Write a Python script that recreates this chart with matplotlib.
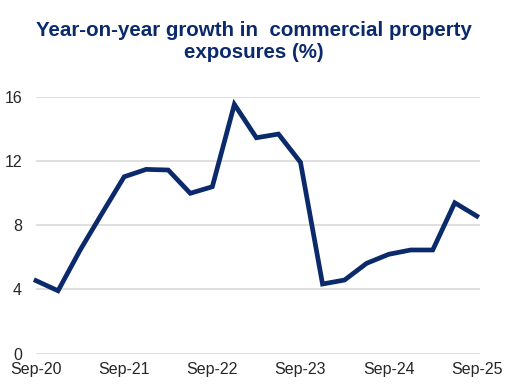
import matplotlib
matplotlib.use("Agg")
import matplotlib.pyplot as plt

plt.rcParams['font.family'] = ['Liberation Sans', 'DejaVu Sans']

growth = [4.55, 3.92, 6.45, 8.75, 11.02, 11.48, 11.44, 9.99, 10.40, 15.53,
          13.45, 13.68, 11.92, 4.34, 4.59, 5.63, 6.19, 6.46, 6.46, 9.40, 8.57]
tick_idx = [0, 4, 8, 12, 16, 20]
tick_labels = ['Sep-20', 'Sep-21', 'Sep-22', 'Sep-23', 'Sep-24', 'Sep-25']
y_ticks = [0, 4, 8, 12, 16]

navy = '#0b2a6b'
fig = plt.figure(figsize=(5.07, 3.91), dpi=100)
ax = fig.add_axes([0.071, 0.0954, 0.876, 0.657])
x = list(range(len(growth)))
ax.plot(x, growth, color=navy, lw=3.4, solid_joinstyle='miter', clip_on=False, zorder=3)
ax.set_xlim(0, 20.15)
ax.set_ylim(0, 16)
ax.set_yticks(y_ticks)
ax.set_yticklabels([str(v) for v in y_ticks])
ax.set_xticks(tick_idx)
ax.set_xticklabels(tick_labels)
ax.grid(axis='y', color='#d9d9d9', lw=1.2)
ax.set_axisbelow(True)
for s in ax.spines.values():
    s.set_visible(False)
ax.tick_params(length=0, labelsize=11.5, colors='#262626')
ax.tick_params(axis='y', pad=10)
ax.tick_params(axis='x', pad=6)
fig.text(0.5, 0.893, 'Year-on-year growth in  commercial property\nexposures (%)',
         ha='center', va='center', fontsize=14.8, fontweight='bold', color=navy,
         linespacing=1.2)
fig.savefig('out.png', dpi=100)
